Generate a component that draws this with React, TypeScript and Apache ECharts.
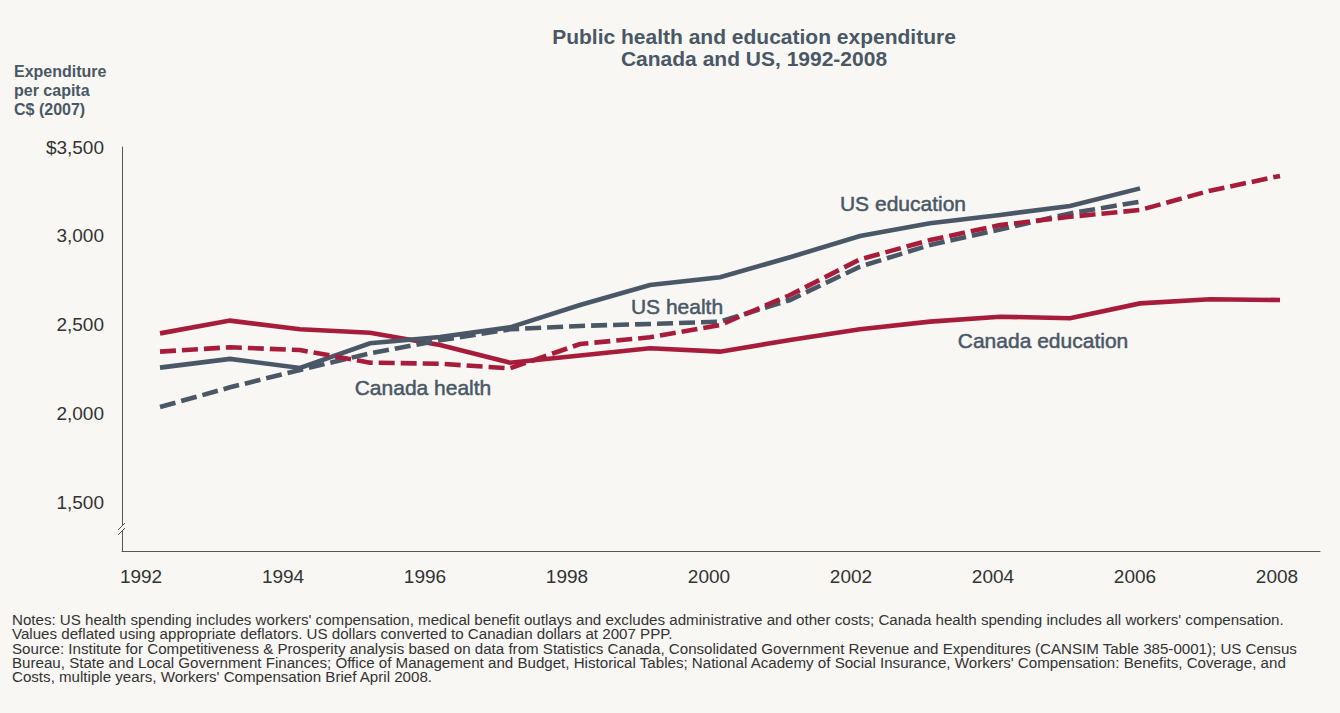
import React, { useEffect, useRef } from "react";
import * as echarts from "echarts";

const years = [1992, 1993, 1994, 1995, 1996, 1997, 1998, 1999, 2000, 2001, 2002, 2003, 2004, 2005, 2006, 2007, 2008];
const canadaEducation = [2450, 2522, 2473, 2454, 2385, 2285, 2325, 2366, 2347, 2413, 2473, 2516, 2544, 2535, 2619, 2642, 2638];
const canadaHealth = [2347, 2372, 2356, 2285, 2279, 2253, 2390, 2428, 2497, 2666, 2867, 2976, 3060, 3107, 3145, 3254, 3337];
const usEducation = [2257, 2306, 2255, 2394, 2430, 2484, 2610, 2723, 2766, 2879, 2999, 3070, 3117, 3168, 3267, null, null];
const usHealth = [2035, 2146, 2244, 2338, 2411, 2473, 2492, 2503, 2516, 2638, 2826, 2948, 3035, 3126, 3192, null, null];
const xTickYears = [1992, 1994, 1996, 1998, 2000, 2002, 2004, 2006, 2008];
const yTickValues = [1500, 2000, 2500, 3000, 3500];

const title = ["Public health and education expenditure", "Canada and US, 1992-2008"];
const yTitle = "Expenditure\nper capita\nC$ (2007)";
const notes = [
  "Notes: US health spending includes workers' compensation, medical benefit outlays and excludes administrative and other costs; Canada health spending includes all workers' compensation.",
  "Values deflated using appropriate deflators. US dollars converted to Canadian dollars at 2007 PPP.",
  "Source: Institute for Competitiveness & Prosperity analysis based on data from Statistics Canada, Consolidated Government Revenue and Expenditures (CANSIM Table 385-0001); US Census",
  "Bureau, State and Local Government Finances; Office of Management and Budget, Historical Tables; National Academy of Social Insurance, Workers' Compensation: Benefits, Coverage, and",
  "Costs, multiple years, Workers' Compensation Brief April 2008.",
];

const RED = "#A81C3B";
const GREY = "#4A5766";
const BG = "#F8F7F3";
const FONT = "'Liberation Sans', Arial, Helvetica, sans-serif";

const pairs = (vals: (number | null)[]) => years.map((y, i) => [y, vals[i]]);

export default function App() {
  const ref = useRef<HTMLDivElement>(null);
  useEffect(() => {
    if (!ref.current) return;
    const chart = echarts.init(ref.current, null, { renderer: "svg" });
    const lineSeries = (name: string, vals: (number | null)[], color: string, dashed: boolean) => ({
      name,
      type: "line",
      xAxisIndex: 0,
      yAxisIndex: 0,
      data: pairs(vals),
      showSymbol: false,
      symbol: "none",
      connectNulls: false,
      lineStyle: { color, width: 4.6, type: dashed ? [16, 6] : "solid", cap: "butt", join: "miter" },
      z: dashed ? 3 : 2,
    });
    const seriesLabel = (text: string, x: number, y: number) => ({
      type: "text",
      x,
      y,
      style: {
        text,
        fill: GREY,
        stroke: GREY,
        lineWidth: 0.5,
        font: `21px ${FONT}`,
        align: "center",
        verticalAlign: "middle",
      },
    });
    chart.setOption({
      animation: false,
      backgroundColor: BG,
      textStyle: { fontFamily: FONT },
      grid: { left: 122, top: 147, width: 1198, height: 404, containLabel: false },
      xAxis: [
        {
          type: "value",
          min: 1991.457,
          max: 2008.571,
          axisLine: { show: true, lineStyle: { color: "#555", width: 1 } },
          axisTick: { show: false },
          axisLabel: { show: false },
          splitLine: { show: false },
        },
        {
          type: "value",
          position: "bottom",
          min: 1991.732,
          max: 2008.606,
          axisLine: { show: false },
          axisTick: { show: false },
          splitLine: { show: false },
          axisLabel: {
            show: true,
            customValues: xTickYears,
            formatter: (v: number) => String(Math.round(v)),
            color: "#333",
            fontSize: 19,
            fontFamily: FONT,
            margin: 16,
          },
        },
      ],
      yAxis: {
        type: "value",
        min: 1224,
        max: 3500,
        axisLine: { show: true, lineStyle: { color: "#555", width: 1 } },
        axisTick: { show: false },
        splitLine: { show: false },
        axisLabel: {
          customValues: yTickValues,
          formatter: (v: number) => (v === 3500 ? "$" : "") + v.toLocaleString("en-US"),
          color: "#333",
          fontSize: 19,
          fontFamily: FONT,
          margin: 18,
        },
      },
      series: [
        lineSeries("Canada education", canadaEducation, RED, false),
        lineSeries("US education", usEducation, GREY, false),
        lineSeries("US health", usHealth, GREY, true),
        lineSeries("Canada health", canadaHealth, RED, true),
      ],
      graphic: [
        {
          type: "text",
          x: 754,
          y: 25,
          style: {
            text: title.join("\n"),
            fill: GREY,
            font: `bold 21px ${FONT}`,
            align: "center",
            lineHeight: 22,
          },
        },
        {
          type: "text",
          x: 14,
          y: 62,
          style: { text: yTitle, fill: GREY, font: `bold 16px ${FONT}`, lineHeight: 19 },
        },
        seriesLabel("US education", 903, 203),
        seriesLabel("US health", 677, 306),
        seriesLabel("Canada health", 423, 387),
        seriesLabel("Canada education", 1043, 340),
        { type: "rect", shape: { x: 116, y: 525, width: 12, height: 6 }, style: { fill: BG }, z: 10 },
        { type: "line", shape: { x1: 118, y1: 530, x2: 125, y2: 523 }, style: { stroke: "#555", lineWidth: 1 }, z: 11 },
        { type: "line", shape: { x1: 118, y1: 535, x2: 125, y2: 528 }, style: { stroke: "#555", lineWidth: 1 }, z: 11 },
        {
          type: "text",
          x: 12,
          y: 613,
          scaleX: 1.08,
          style: { text: notes.join("\n"), fill: "#333", font: `14px ${FONT}`, lineHeight: 14.3 },
        },
      ],
    });
    return () => chart.dispose();
  }, []);
  return <div ref={ref} style={{ position: "fixed", left: 0, top: 0, width: 1340, height: 713 }} />;
}
